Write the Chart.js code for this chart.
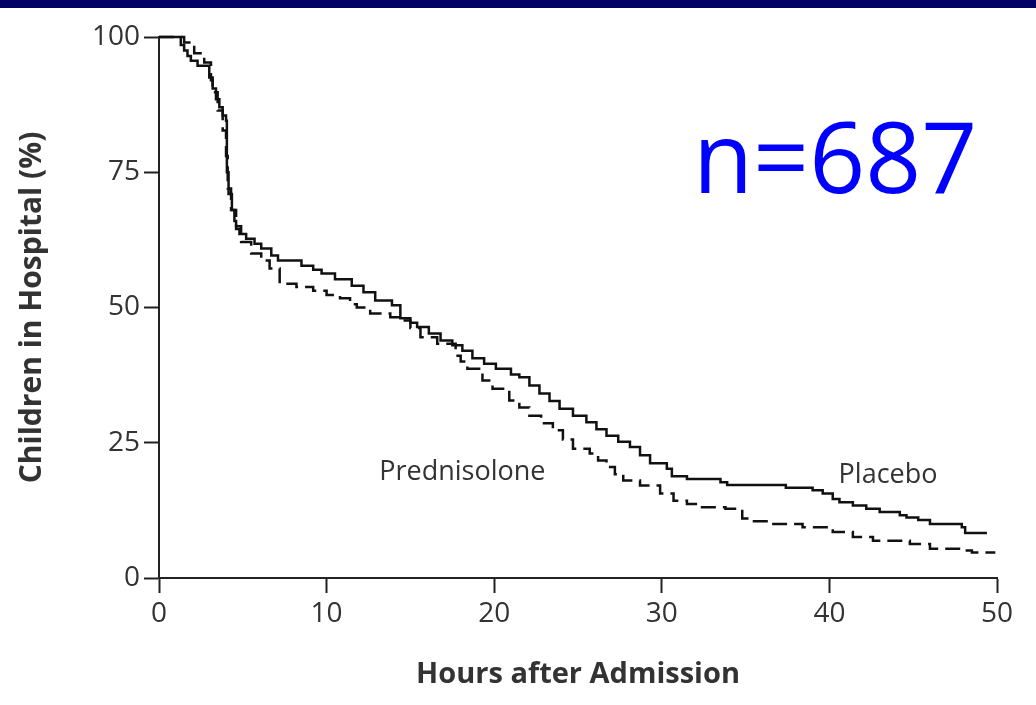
<!DOCTYPE html>
<html lang="en">
<head>
    <meta charset="UTF-8">
    <title>Children in Hospital</title>
    <style>
        html, body { margin: 0; padding: 0; background: #fff; }
        body { width: 1036px; height: 705px; position: relative; overflow: hidden; }
        .top-bar {
            position: absolute; left: 0; top: 0;
            width: 1036px; height: 8px;
            background-color: #000066;
            z-index: 2;
        }
        #wrap { position: absolute; left: 0; top: 0; width: 1036px; height: 705px; }
    </style>
    <script src="https://cdn.jsdelivr.net/npm/chart.js"></script>
</head>
<body>
    <div class="top-bar"></div>
    <div id="wrap"><canvas id="stay-chart" width="1036" height="705"></canvas></div>
    <script>
        // Kaplan-Meier style curves: hour of each step and % still in hospital after it
        const placeboHours = [0, 1.3, 1.5, 1.7, 1.9, 2.3, 3.0, 3.2, 3.4, 3.6, 3.8, 4.0, 4.05, 4.15, 4.35, 4.5,
            4.6, 4.8, 5.2, 5.7, 6.1, 6.7, 7.1, 8.5, 9.2, 9.7, 10.5, 11.5, 12.2, 12.9, 13.9, 14.4, 15.0, 15.4,
            16.1, 16.8, 17.5, 18.1, 18.7, 19.4, 20.1, 21.0, 21.5, 22.1, 22.7, 23.3, 23.9, 24.7, 25.5, 26.1,
            26.7, 27.4, 28.1, 28.7, 29.3, 30.3, 30.6, 31.5, 33.5, 33.9, 37.4, 39.0, 39.6, 40.2, 40.6, 41.4,
            42.2, 43.0, 44.2, 44.6, 45.3, 46.0, 47.9, 48.1, 49.4];
        const placeboPct = [100, 98.5, 97.5, 96.5, 95.6, 94.7, 92.5, 90.5, 88.5, 87, 85.5, 84.5, 75, 71, 68, 66,
            64.5, 63.6, 62.7, 61.8, 60.9, 59.6, 58.7, 57.7, 57.0, 56.3, 55.2, 54.0, 52.8, 51.3, 50.4, 48.0, 47.2, 46.4,
            45.2, 43.9, 43.0, 42.0, 40.6, 39.6, 38.7, 37.6, 37.1, 35.6, 34.1, 32.7, 31.3, 30.0, 28.8, 27.5,
            26.3, 25.2, 24.2, 22.7, 21.2, 20.2, 18.8, 18.3, 17.7, 17.2, 16.7, 16.2, 15.6, 14.6, 14.0, 13.4,
            12.8, 12.2, 11.6, 11.2, 10.7, 10.0, 9.4, 8.3, 8.3];

        const prednisoloneHours = [0, 1.5, 2.1, 2.7, 3.1, 3.2, 3.5, 3.8, 4.0, 4.1, 4.3, 4.6, 4.9, 5.5, 6.1,
            6.6, 7.2, 8.2, 9.2, 10.0, 10.8, 11.4, 11.8, 12.6, 13.8, 14.4, 15.0, 15.6, 16.6, 17.7, 18.0, 18.4,
            19.3, 19.9, 20.9, 21.5, 22.1, 22.8, 23.5, 24.1, 24.7, 25.7, 26.2, 26.7, 27.2, 27.7, 28.7, 29.9,
            30.7, 31.5, 32.4, 33.8, 34.8, 35.5, 36.4, 38.4, 40.2, 41.4, 42.6, 44.8, 46.0, 47.9, 48.5, 49.9];
        const prednisolonePct = [100, 99, 97, 95.3, 92, 89.8, 86.4, 82.7, 78, 72, 68, 65, 62.1, 60.0, 58.7,
            57.2, 54.4, 53.8, 53.1, 52.3, 51.7, 50.6, 50.0, 48.9, 48.2, 47.6, 46.2, 44.5, 43.3, 41.1, 40.0, 38.7,
            36.5, 35.0, 32.8, 31.5, 30.0, 28.6, 27.3, 25.6, 23.9, 23.0, 21.7, 20.5, 19.2, 18.0, 17.1, 15.6,
            14.3, 13.7, 13.1, 12.8, 11.0, 10.5, 10.0, 9.4, 8.5, 7.6, 6.9, 6.3, 5.4, 5.1, 4.7, 4.7];

        const xTicks = [0, 10, 20, 30, 40, 50];
        const yTicks = [0, 25, 50, 75, 100];

        const axisColor = '#222';
        const textColor = '#333';

        function toPoints(xs, ys) {
            return xs.map((x, i) => ({ x: x, y: ys[i] }));
        }

        // curve names written next to the lines, placed in data units
        const curveLabels = [
            { text: 'Prednisolone', x: 18.1, y: 19.6 },
            { text: 'Placebo', x: 43.5, y: 19.0 }
        ];

        const labelPlugin = {
            id: 'curveLabels',
            afterDraw(chart) {
                const ctx = chart.ctx;
                const xs = chart.scales.x, ys = chart.scales.y;
                ctx.save();
                ctx.fillStyle = textColor;
                ctx.font = '27px "Open Sans"';
                ctx.textAlign = 'center';
                ctx.textBaseline = 'middle';
                curveLabels.forEach(l => {
                    ctx.fillText(l.text, xs.getPixelForValue(l.x), ys.getPixelForValue(l.y));
                });
                // sample size in the upper right
                ctx.fillStyle = '#0000ff';
                ctx.font = '98px "Open Sans"';
                ctx.textAlign = 'left';
                ctx.textBaseline = 'alphabetic';
                ctx.fillText('n=687', 693, 193);
                ctx.restore();
            }
        };

        function buildChart() {
            new Chart(document.getElementById('stay-chart'), {
                type: 'line',
                data: {
                    datasets: [{
                        label: 'Placebo',
                        data: toPoints(placeboHours, placeboPct),
                        borderColor: '#111',
                        borderWidth: 2.5,
                        stepped: true,
                        pointRadius: 0,
                        fill: false,
                        clip: 4
                    }, {
                        label: 'Prednisolone',
                        data: toPoints(prednisoloneHours, prednisolonePct),
                        borderColor: '#111',
                        borderWidth: 2.5,
                        borderDash: [15, 7],
                        stepped: true,
                        pointRadius: 0,
                        fill: false,
                        clip: 4
                    }]
                },
                options: {
                    responsive: false,
                    animation: false,
                    devicePixelRatio: 1,
                    layout: { padding: { left: 0, top: 37, right: 39, bottom: 0 } },
                    plugins: {
                        legend: { display: false },
                        tooltip: { enabled: false }
                    },
                    scales: {
                        x: {
                            type: 'linear',
                            min: 0,
                            max: 50,
                            afterFit(scale) { scale.height = 127; },
                            afterBuildTicks(scale) { scale.ticks = xTicks.map(v => ({ value: v })); },
                            border: { display: true, color: axisColor, width: 2 },
                            grid: {
                                drawOnChartArea: false,
                                drawTicks: true,
                                tickLength: 15,
                                tickWidth: 2,
                                tickColor: axisColor
                            },
                            ticks: {
                                color: textColor,
                                padding: 4,
                                maxRotation: 0,
                                font: { family: 'Open Sans', size: 28 }
                            },
                            title: {
                                display: true,
                                text: 'Hours after Admission',
                                color: textColor,
                                padding: { top: 0, bottom: 13 },
                                font: { family: 'Open Sans', size: 29, weight: 'bold' }
                            }
                        },
                        y: {
                            min: 0,
                            max: 100,
                            afterFit(scale) { scale.width = 159; },
                            afterBuildTicks(scale) { scale.ticks = yTicks.map(v => ({ value: v })); },
                            border: { display: true, color: axisColor, width: 2 },
                            grid: {
                                drawOnChartArea: false,
                                drawTicks: true,
                                tickLength: 15,
                                tickWidth: 2,
                                tickColor: axisColor
                            },
                            ticks: {
                                color: textColor,
                                padding: 4,
                                font: { family: 'Open Sans', size: 28 }
                            },
                            title: {
                                display: true,
                                text: 'Children in Hospital (%)',
                                color: textColor,
                                padding: { top: 14, bottom: 0 },
                                font: { family: 'Open Sans', size: 30, weight: 'bold' }
                            }
                        }
                    }
                },
                plugins: [labelPlugin]
            });
        }

        Promise.all([
            document.fonts.load('28px "Open Sans"'),
            document.fonts.load('bold 30px "Open Sans"')
        ]).then(buildChart, buildChart);
    </script>
</body>
</html>
